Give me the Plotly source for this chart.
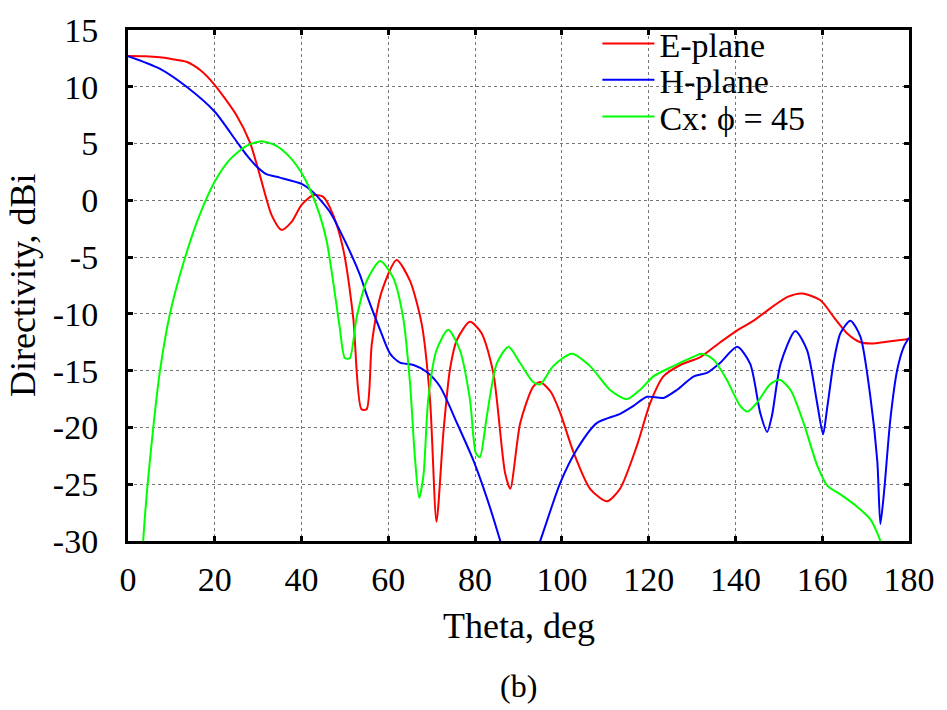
import plotly.graph_objects as go

# E-plane directivity (dBi) versus theta (deg)
theta_e = [0, 4, 7.3, 10, 13.5, 16.7, 20, 25, 28.1, 30.4, 33.1, 35.4, 37.7, 40, 42.7, 45,
           47.3, 49.6, 51.9, 53.8, 55.0, 56.2, 58.5, 61.9, 65, 67.7, 69.6, 71.1, 72.7,
           74.2, 75.8, 78.8, 81.5, 84.2, 86.9, 88.1, 90.4, 93.4, 95, 97.5, 99.6,
           102.7, 106.5, 110.4, 113.4, 117.3, 120.4, 123.4, 127.3, 131.9, 136.5,
           140.4, 144.2, 148.8, 152, 155.4, 159.6, 162.7, 165.7, 168.8, 171.9,
           175.7, 180]
d_e = [12.7, 12.68, 12.6, 12.45, 12.2, 11.45, 10.15, 7.5, 5.1, 2.2, -1.3, -2.6, -1.9, -0.4,
       0.45, 0.3, -1.3, -4.3, -10.3, -18.4, -18.4, -12.6, -8.0, -5.25, -7.1, -10.9, -17.5,
       -28.3, -20.4, -14.9, -12.3, -10.7, -11.7, -15.2, -24.0, -25.4, -19.6, -16.4, -16.0,
       -16.9, -18.7, -22.2, -25.4, -26.5, -25.4, -21.6, -17.8, -15.5, -14.5, -13.8, -12.5,
       -11.45, -10.6, -9.3, -8.5, -8.2, -8.8, -10.3, -11.7, -12.5, -12.6,
       -12.4, -12.2]

# H-plane directivity (dBi)
theta_h = [0, 7.3, 13.5, 20, 25, 27.3, 29.6, 31.9, 35, 40, 42.7, 46.5, 50.4, 53.5,
           55, 58.1, 60.4, 62.7, 65.8, 68.8, 71.9, 75.8, 79.6, 82.7, 85.8, 88, 90,
           92, 95, 99.6, 103.5, 108.1, 113.4, 116.5, 119.6, 123.4, 126.5, 130.4,
           133.4, 136.5, 140.4, 143.4, 145.7, 147.3, 148.4, 150.4, 153.8, 156.5,
           158.8, 160.2, 161.1, 162.7, 164.2, 166.5, 168.8, 171.1, 172.7, 173.4,
           174.2, 175.7, 177.3, 178.8, 180]
d_h = [12.7, 11.6, 10.0, 7.8, 5.2, 4.0, 3.0, 2.3, 2.0, 1.45, 0.7, -1.0, -3.9, -6.6,
       -8.3, -11.4, -13.5, -14.3, -14.5, -15.1, -16.4, -19.6, -22.9, -26.2, -30.0, -33, -34,
       -33, -30, -24.9, -21.9, -19.6, -18.8, -18.1, -17.3, -17.4, -16.7, -15.5,
       -15.2, -14.3, -12.9, -14.4, -18.7, -20.4, -19.0, -14.4, -11.5, -13.2,
       -17.8, -20.6, -18.4, -14.1, -11.7, -10.6, -12.0, -17.3, -23.0, -28.5,
       -25.9, -19.3, -14.9, -12.9, -12.1]

# Cross-polar component in the phi = 45 deg plane (dBi)
theta_cx = [2.5, 3.5, 4.5, 5.8, 7.3, 9.6, 13.1, 16.5, 20, 23.5, 27.3, 30.8, 34.2, 37.3,
            40, 41.9, 44.2, 45.8, 47.3, 48.8, 50, 51.1, 52.7, 55, 58.1, 61.1, 63.4,
            65, 66.1, 67.1, 68.1, 69.2, 71.1, 73.8, 76.5, 78.8, 80.2, 81.1, 82.7, 85,
            87.7, 90.4, 93.4, 95, 98, 102.3, 106.5, 111.1, 115, 118, 121.1, 125.7,
            129.6, 132.3, 135, 138, 141.1, 142.8, 145, 148, 150.2, 152.7, 155.7,
            158.8, 161.1, 164.2, 168.1, 171.1, 173.4, 175]
d_cx = [-38, -30, -25.1, -20.1, -15.2, -10.1, -5.1, -1.3, 1.65, 3.6, 4.8, 5.2, 4.8, 3.8,
        2.4, 1.0, -1.3, -3.6, -7.2, -11.2, -13.9, -13.9, -10.3, -7.1, -5.35, -6.8, -10.3,
        -16.1, -22.5, -26.2, -24.2, -17.5, -13.2, -11.4, -13.2, -17.5, -22.3, -22.6, -19.0, -14.35,
        -12.9, -14.35, -16.0, -16.2, -14.6, -13.5, -14.6, -16.7, -17.5, -16.7, -15.5, -14.6,
        -13.9, -13.5, -14.05, -15.8, -18.1, -18.6, -17.8, -16.2, -15.8, -16.7, -19.6,
        -23.3, -25.1, -25.9, -27.0, -28.1, -30, -33]

x_ticks = list(range(0, 181, 20))
y_ticks = list(range(-30, 16, 5))

FONT = "Liberation Serif, Times New Roman, serif"

fig = go.Figure()
series = [
    ("E-plane", theta_e, d_e, "#ff0000", "legend"),
    ("H-plane", theta_h, d_h, "#0000ff", "legend2"),
    ("Cx: \u03d5 = 45", theta_cx, d_cx, "#00ff00", "legend3"),
]
for name, x, y, color, leg in series:
    fig.add_trace(go.Scatter(
        x=x, y=y, name=name, mode="lines", legend=leg,
        line=dict(color=color, width=2, shape="spline", smoothing=0.7),
    ))

axis_common = dict(
    showline=True, linecolor="black", linewidth=3, mirror="ticks",
    ticks="inside", ticklen=5, tickwidth=3, tickcolor="black",
    showgrid=True, gridcolor="#777777", gridwidth=1, griddash="dot",
    zeroline=False, tickfont=dict(family=FONT, size=34, color="black"),
)

fig.update_xaxes(range=[0, 180], tickvals=x_ticks, ticklabelstandoff=6, **axis_common)
fig.update_yaxes(range=[-30, 15], tickvals=y_ticks,
                 ticktext=[str(v) for v in y_ticks], ticklabelstandoff=20, **axis_common)


def key(row_y):
    # one key entry per row so the row pitch can be set directly
    return dict(
        x=0.601, y=row_y, xanchor="left", yanchor="middle",
        bgcolor="rgba(0,0,0,0)", borderwidth=0,
        font=dict(family=FONT, size=34, color="black"),
        itemwidth=52,
    )


fig.update_layout(
    width=947, height=710,
    margin=dict(l=128, r=38, t=22, b=169),
    plot_bgcolor="white", paper_bgcolor="white",
    showlegend=True,
    legend=key(0.973),
    legend2=key(0.902),
    legend3=key(0.830),
    shapes=[
        # opaque key box: hides the grid behind the key entries
        dict(type="rect", xref="paper", yref="paper", layer="between",
             x0=0.59, x1=0.905, y0=0.795, y1=0.995,
             fillcolor="white", line=dict(width=0)),
    ],
    annotations=[
        dict(text="Directivity, dBi", xref="paper", yref="paper",
             x=-0.135, y=0.5, textangle=-90, showarrow=False,
             xanchor="center", yanchor="middle",
             font=dict(family=FONT, size=36, color="black")),
        dict(text="Theta, deg", xref="paper", yref="paper",
             x=0.5, y=-0.166, showarrow=False,
             xanchor="center", yanchor="middle",
             font=dict(family=FONT, size=36, color="black")),
        dict(text="(b)", xref="paper", yref="paper",
             x=0.5, y=-0.2835, showarrow=False,
             xanchor="center", yanchor="middle",
             font=dict(family=FONT, size=32, color="black")),
    ],
)

fig.write_html("out.html")
